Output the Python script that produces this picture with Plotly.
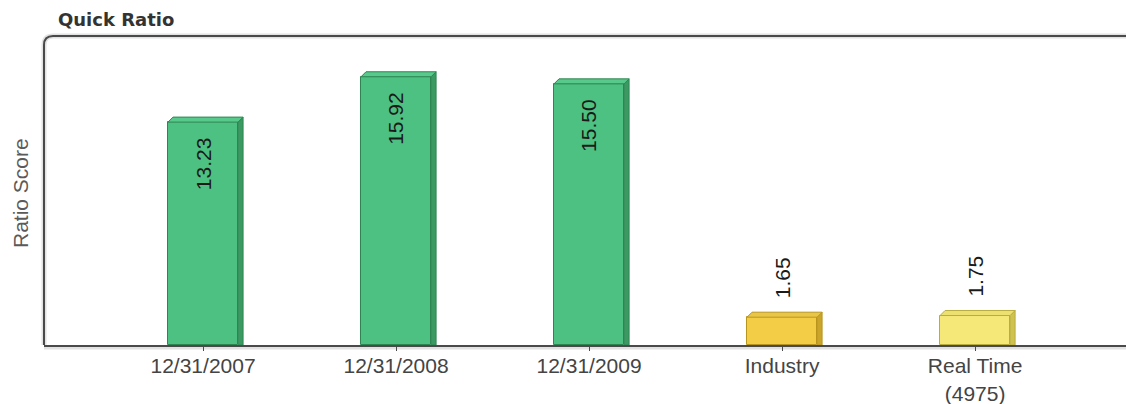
import plotly.graph_objects as go

# Quick ratio values per period plus benchmarks
categories = ["12/31/2007", "12/31/2008", "12/31/2009", "Industry", "Real Time<br>(4975)"]
values = [13.23, 15.92, 15.50, 1.65, 1.75]
labels = ["13.23", "15.92", "15.50", "1.65", "1.75"]

front_colors = ["#4dc181", "#4dc181", "#4dc181", "#f2cd45", "#f5e878"]
side_colors = ["#3a9a62", "#3a9a62", "#3a9a62", "#caa52a", "#cfc24e"]
top_colors = ["#57c98a", "#57c98a", "#57c98a", "#e9c648", "#ece070"]
edge_colors = ["#2f8552", "#2f8552", "#2f8552", "#b8951e", "#b9ad40"]

W, H = 1126, 404
M_L, M_R, M_T, M_B = 44, 0, 36, 59
plot_w = W - M_L - M_R
plot_h = H - M_T - M_B

x_range = [-0.824, 4.782]
y_range = [0, 18.34]
x_per_px = (x_range[1] - x_range[0]) / plot_w
y_per_px = (y_range[1] - y_range[0]) / plot_h

bar_w = 0.363
dx = 5 * x_per_px   # depth offset of the 3D faces
dy = 5 * y_per_px

FONT = "Liberation Sans, Arial"

fig = go.Figure()

xs = list(range(len(categories)))

# Side and top faces drawn as filled polygons behind the front faces
for i, v in zip(xs, values):
    xr = i + bar_w / 2
    xl = i - bar_w / 2
    fig.add_trace(go.Scatter(
        x=[xr, xr + dx, xr + dx, xr, xr],
        y=[0, 0, v + dy, v, 0],
        fill="toself", fillcolor=side_colors[i], mode="lines",
        line=dict(color=edge_colors[i], width=1), hoverinfo="skip", showlegend=False,
    ))
    fig.add_trace(go.Scatter(
        x=[xl, xl + dx, xr + dx, xr, xl],
        y=[v, v + dy, v + dy, v, v],
        fill="toself", fillcolor=top_colors[i], mode="lines",
        line=dict(color=edge_colors[i], width=1), hoverinfo="skip", showlegend=False,
    ))

# Front faces
fig.add_trace(go.Bar(
    x=xs, y=values, width=bar_w,
    marker=dict(color=front_colors, line=dict(color=edge_colors, width=1)),
    showlegend=False, hoverinfo="skip",
))

# Rotated value labels: inside near the top for tall bars, above the short ones
annotations = []
for i, (v, t) in enumerate(zip(values, labels)):
    inside = v > 5
    annotations.append(dict(
        x=i, y=v, xref="x", yref="y", text=t, showarrow=False, textangle=-90,
        font=dict(family=FONT, size=21, color="#1a1a1a"),
        xanchor="center", yanchor="middle",
        yshift=-42 if inside else 39,
    ))

# Chart title above the frame
annotations.append(dict(
    x=(56 - M_L) / plot_w, y=1 + (M_T - 19) / plot_h, xref="paper", yref="paper",
    text="<b>Quick Ratio</b>", showarrow=False, xanchor="left", yanchor="middle",
    font=dict(family="DejaVu Sans", size=18, color="#333333"),
))

# Vertical axis caption
annotations.append(dict(
    x=(20 - M_L) / plot_w, y=(plot_h + M_T - 193) / plot_h, xref="paper", yref="paper",
    text="Ratio Score", showarrow=False, textangle=-90,
    xanchor="center", yanchor="middle",
    font=dict(family=FONT, size=21, color="#5a5a5a"),
))

# Frame with rounded top-left corner, plus a soft shadow line
rx = 9 / plot_w
ry = 9 / plot_h
frame = f"M 0,0 L 0,{1 - ry} Q 0,1 {rx},1 L 1.01,1"
shapes = [
    dict(type="path", xref="paper", yref="paper", path=frame,
         line=dict(color="#e2e2e2", width=5), layer="below"),
    dict(type="path", xref="paper", yref="paper", path=frame,
         line=dict(color="#4a4a4a", width=2), layer="above"),
    dict(type="line", xref="paper", yref="paper", x0=0, x1=1.01, y0=-3 / plot_h, y1=-3 / plot_h,
         line=dict(color="#e2e2e2", width=3), layer="below"),
]

fig.update_layout(
    width=W, height=H,
    margin=dict(l=M_L, r=M_R, t=M_T, b=M_B, autoexpand=False),
    paper_bgcolor="white", plot_bgcolor="white",
    bargap=0,
    annotations=annotations,
    shapes=shapes,
    xaxis=dict(
        range=x_range, tickmode="array", tickvals=xs, ticktext=categories,
        showgrid=False, zeroline=False, showline=True, linecolor="#4a4a4a", linewidth=2,
        ticks="outside", ticklen=4, tickcolor="#4a4a4a", automargin=False,
        ticklabelstandoff=-3,
        tickfont=dict(family=FONT, size=21, color="#444444"),
    ),
    yaxis=dict(
        range=y_range, showgrid=False, zeroline=False, showticklabels=False,
        showline=False, automargin=False,
    ),
)

fig.write_html("out.html")
